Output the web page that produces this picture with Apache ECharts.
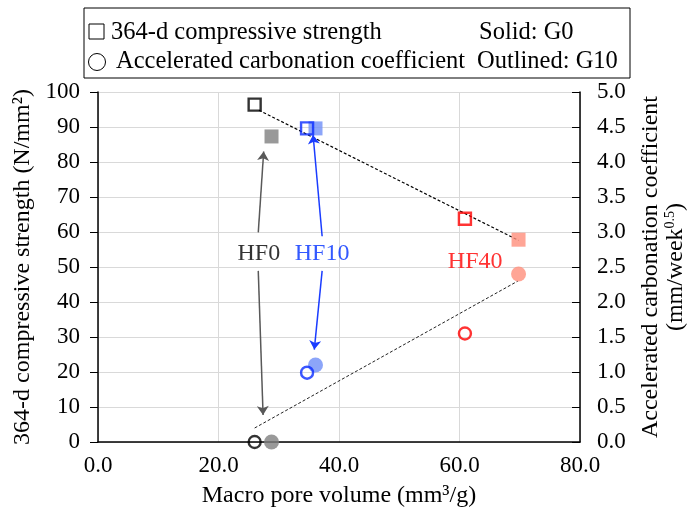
<!DOCTYPE html>
<html>
<head>
<meta charset="utf-8">
<script src="https://cdn.jsdelivr.net/npm/echarts@6/dist/echarts.min.js"></script>
<style>
  html, body { margin: 0; padding: 0; background: #fff; }
  #chart { width: 691px; height: 517px; }
</style>
</head>
<body>
<div id="chart"></div>
<script>
'use strict';

// mixes
const mixes = ['HF0', 'HF10', 'HF40'];
// macro pore volume (mm3/g)
const poreG0 = [28.8, 36.1, 69.8];
const poreG10 = [26.0, 34.7, 60.9];
// 364-d compressive strength (N/mm2)
const strengthG0 = [87.3, 89.6, 57.8];
const strengthG10 = [96.4, 89.6, 63.8];
// accelerated carbonation coefficient (mm/week^0.5)
const carbG0 = [0.0, 1.10, 2.40];
const carbG10 = [0.0, 0.99, 1.55];

// trend lines [x, y]
const strengthTrend = [[26.7, 94.8], [69.8, 57.6]];
const carbTrend = [[26.0, 0.2], [69.7, 2.3]];

// annotation arrows, label position -> point
const arrowsHF0 = [
  [[26.6, 59.9], [27.5, 83.0]],
  [[26.6, 48.9], [27.4, 7.7]]
];
const arrowsHF10 = [
  [[37.2, 58.8], [35.7, 87.7]],
  [[37.2, 48.9], [35.9, 26.4]]
];
const labelPos = [[26.7, 53.9], [37.2, 53.9], [62.6, 51.6]];

const solidColors = ['#7f7f7f', '#6f8ff8', '#ff8f7c'];
const lineColors = ['#000000', '#0a2cff', '#ff0000'];
const textColors = ['#000000', '#0030ff', '#ff0000'];

const FONT = '"Liberation Serif", "Times New Roman", serif';
const LEGEND_FONT = '24.5px ' + FONT;

const chart = echarts.init(document.getElementById('chart'), null, { renderer: 'canvas' });

function pts(xs, ys, colors, filled) {
  return xs.map((x, i) => ({
    value: [x, ys[i]],
    itemStyle: filled
      ? { color: colors[i] }
      : { color: 'rgba(0,0,0,0)', borderColor: colors[i], borderWidth: 2.4 }
  }));
}

const option = {
  animation: false,
  backgroundColor: '#fff',
  textStyle: { fontFamily: FONT },
  grid: { left: 98, right: 111, top: 92, bottom: 75, containLabel: false, outerBoundsMode: 'none' },
  xAxis: {
    type: 'value', min: 0, max: 80, interval: 20,
    name: 'Macro pore volume (mm³/g)',
    nameLocation: 'middle', nameGap: 42,
    nameTextStyle: { fontFamily: FONT, fontSize: 24, color: '#000' },
    axisLine: { onZero: false, lineStyle: { color: '#000', width: 1.5 } },
    axisTick: { show: false },
    axisLabel: { fontFamily: FONT, fontSize: 23, color: '#000', margin: 12,
      formatter: v => v.toFixed(1) },
    splitLine: { show: true, lineStyle: { color: '#d9d9d9', width: 1 } }
  },
  yAxis: [
    {
      type: 'value', min: 0, max: 100, interval: 10,
      name: '364-d compressive strength (N/mm²)',
      nameLocation: 'middle', nameGap: 58, nameRotate: 90,
      nameTextStyle: { fontFamily: FONT, fontSize: 24, color: '#000' },
      axisLine: { show: true, lineStyle: { color: '#000', width: 1.5 } },
      axisTick: { show: true, length: 8, lineStyle: { color: '#000' } },
      axisLabel: { fontFamily: FONT, fontSize: 23, color: '#000', margin: 18 },
      splitLine: { show: true, lineStyle: { color: '#d9d9d9', width: 1 } }
    },
    {
      type: 'value', min: 0, max: 5, interval: 0.5, position: 'right',
      name: 'Accelerated carbonation coefficient\n(mm/week{sup|0.5})',
      nameLocation: 'middle', nameGap: 58, nameRotate: 90,
      nameTextStyle: { fontFamily: FONT, fontSize: 24, color: '#000', lineHeight: 25,
        rich: { sup: { fontFamily: FONT, fontSize: 14, color: '#000', verticalAlign: 'top', lineHeight: 18 } } },
      axisLine: { show: true, lineStyle: { color: '#000', width: 1.5 } },
      axisTick: { show: true, inside: true, length: 8, lineStyle: { color: '#000' } },
      axisLabel: { fontFamily: FONT, fontSize: 23, color: '#000', margin: 17,
        formatter: v => v.toFixed(1) },
      splitLine: { show: false }
    }
  ],
  series: [
    {
      type: 'line', data: strengthTrend, yAxisIndex: 0, symbol: 'none', z: 2,
      lineStyle: { color: '#000', width: 1.2, type: [3, 2] }
    },
    {
      type: 'line', data: carbTrend, yAxisIndex: 1, symbol: 'none', z: 2,
      lineStyle: { color: '#222', width: 1, type: [3, 2] }
    },
    {
      type: 'lines', coordinateSystem: 'cartesian2d', z: 3,
      symbol: ['none', 'arrow'], symbolSize: 9,
      lineStyle: { color: '#595959', width: 1.5, opacity: 1 },
      data: arrowsHF0.map(c => ({ coords: c }))
    },
    {
      type: 'lines', coordinateSystem: 'cartesian2d', z: 3,
      symbol: ['none', 'arrow'], symbolSize: 9,
      lineStyle: { color: '#1a3cff', width: 1.5, opacity: 1 },
      data: arrowsHF10.map(c => ({ coords: c }))
    },
    {
      type: 'scatter', yAxisIndex: 0, symbol: 'rect', symbolSize: 14, z: 4,
      data: pts(poreG0, strengthG0, solidColors, true)
    },
    {
      type: 'scatter', yAxisIndex: 1, symbol: 'circle', symbolSize: 15, z: 4,
      data: pts(poreG0, carbG0, solidColors, true)
    },
    {
      type: 'scatter', yAxisIndex: 0, symbol: 'rect', symbolSize: 12, z: 5,
      data: pts(poreG10, strengthG10, lineColors, false)
    },
    {
      type: 'scatter', yAxisIndex: 1, symbol: 'circle', symbolSize: 12, z: 5,
      data: pts(poreG10, carbG10, lineColors, false)
    },
    {
      type: 'scatter', yAxisIndex: 0, symbolSize: 0, z: 6, silent: true,
      data: mixes.map((m, i) => ({
        name: m, value: labelPos[i],
        label: { show: true, position: 'inside', formatter: '{b}', fontFamily: FONT,
          fontSize: 24, color: textColors[i] }
      }))
    }
  ],
  graphic: [
    { type: 'rect', shape: { x: 84, y: 8, width: 546, height: 70 },
      style: { fill: '#fff', stroke: '#000', lineWidth: 1 } },
    { type: 'rect', shape: { x: 89, y: 24, width: 15, height: 15 },
      style: { fill: 'none', stroke: '#000', lineWidth: 1 } },
    { type: 'circle', shape: { cx: 97, cy: 62, r: 8.5 },
      style: { fill: 'none', stroke: '#000', lineWidth: 1 } },
    { type: 'text', x: 111, y: 33,
      style: { text: '364-d compressive strength', font: LEGEND_FONT, fill: '#000', verticalAlign: 'middle' } },
    { type: 'text', x: 116, y: 62,
      style: { text: 'Accelerated carbonation coefficient', font: LEGEND_FONT, fill: '#000', verticalAlign: 'middle' } },
    { type: 'text', x: 479, y: 33,
      style: { text: 'Solid: G0', font: LEGEND_FONT, fill: '#000', verticalAlign: 'middle' } },
    { type: 'text', x: 477, y: 62,
      style: { text: 'Outlined: G10', font: LEGEND_FONT, fill: '#000', verticalAlign: 'middle' } }
  ]
};

chart.setOption(option);
</script>
</body>
</html>
